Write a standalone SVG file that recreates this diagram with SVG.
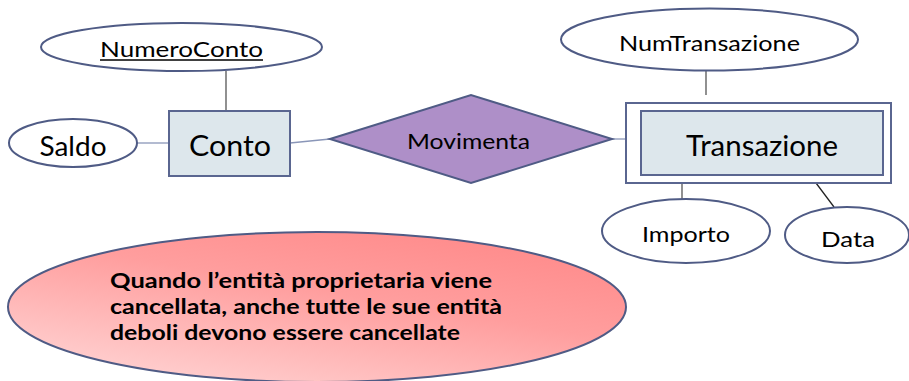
<svg xmlns="http://www.w3.org/2000/svg" width="909" height="381" viewBox="0 0 909 381">
<style>
.ell{fill:#ffffff;stroke:#4f5b85;stroke-width:2}
.ent{fill:#dde7ec;stroke:#5a6690;stroke-width:2}
.lbl{font-family:Lato,"Liberation Sans",sans-serif;fill:#000;text-anchor:middle;dominant-baseline:central}
.con{stroke:#555;stroke-width:1.3;fill:none}
.note{font-family:Lato,"Liberation Sans",sans-serif;font-weight:bold;font-size:20px;fill:#000}
</style>
<defs>
<linearGradient id="pink" x1="0.1" y1="1" x2="0.8" y2="0">
<stop offset="0" stop-color="#ffd6d6"/>
<stop offset="0.6" stop-color="#ff9e9e"/>
<stop offset="1" stop-color="#ff8a8a"/>
</linearGradient>
</defs>
<g id="connectors">
<line class="con" x1="226" y1="71" x2="226" y2="111"/>
<line class="con" x1="137" y1="143" x2="169" y2="143" style="stroke:#8a96b8"/>
<line class="con" x1="290" y1="143" x2="330" y2="139" style="stroke:#8a96b8"/>
<line class="con" x1="612" y1="139" x2="626" y2="139" style="stroke:#8a96b8"/>
<line class="con" x1="706" y1="70" x2="706" y2="95"/>
<line class="con" x1="682" y1="175" x2="682" y2="199"/>
<line class="con" x1="810" y1="175" x2="834" y2="207" style="stroke:#222"/>
</g>
<g id="NumeroConto">
<ellipse class="ell" cx="181.5" cy="47" rx="140.5" ry="24"/>
<text class="lbl" x="181.5" y="48" font-size="22" textLength="163" lengthAdjust="spacingAndGlyphs">NumeroConto</text>
<line x1="100" y1="60" x2="263" y2="60" stroke="#000" stroke-width="1.3"/>
</g>
<g id="Saldo">
<ellipse class="ell" cx="73" cy="143" rx="64" ry="24"/>
<text class="lbl" x="73" y="145" font-size="27" textLength="67" lengthAdjust="spacingAndGlyphs">Saldo</text>
</g>
<g id="Conto">
<rect class="ent" x="169" y="111" width="121" height="65"/>
<text class="lbl" x="230" y="145" font-size="28" textLength="82" lengthAdjust="spacingAndGlyphs">Conto</text>
</g>
<g id="Movimenta">
<polygon points="330,139 471,95 612,139 471,183" fill="#ae8fc8" stroke="#4f5b85" stroke-width="2"/>
<text class="lbl" x="468.5" y="140" font-size="21" textLength="123" lengthAdjust="spacingAndGlyphs">Movimenta</text>
</g>
<g id="NumTransazione">
<ellipse class="ell" cx="709.5" cy="39.5" rx="148.5" ry="31"/>
<text class="lbl" x="709.5" y="42" font-size="22" textLength="181" lengthAdjust="spacingAndGlyphs">NumTransazione</text>
</g>
<g id="Transazione">
<rect x="626" y="103" width="265" height="80" fill="#ffffff" stroke="#5a6690" stroke-width="2"/>
<rect class="ent" x="641" y="111" width="242" height="64"/>
<text class="lbl" x="762" y="145" font-size="28" textLength="152" lengthAdjust="spacingAndGlyphs">Transazione</text>
</g>
<g id="Importo">
<ellipse class="ell" cx="686" cy="231" rx="84" ry="32"/>
<text class="lbl" x="686" y="233" font-size="22" textLength="88" lengthAdjust="spacingAndGlyphs">Importo</text>
</g>
<g id="Data">
<ellipse class="ell" cx="847" cy="235" rx="62" ry="28"/>
<text class="lbl" x="848" y="238" font-size="22" textLength="54" lengthAdjust="spacingAndGlyphs">Data</text>
</g>
<g id="note">
<ellipse cx="317" cy="307" rx="309" ry="75" fill="url(#pink)" stroke="#4f5b85" stroke-width="2"/>
<text class="note" x="110" y="288" textLength="382" lengthAdjust="spacingAndGlyphs">Quando l’entità proprietaria viene</text>
<text class="note" x="110" y="314" textLength="392" lengthAdjust="spacingAndGlyphs">cancellata, anche tutte le sue entità</text>
<text class="note" x="110" y="340" textLength="350" lengthAdjust="spacingAndGlyphs">deboli devono essere cancellate</text>
</g>
</svg>
